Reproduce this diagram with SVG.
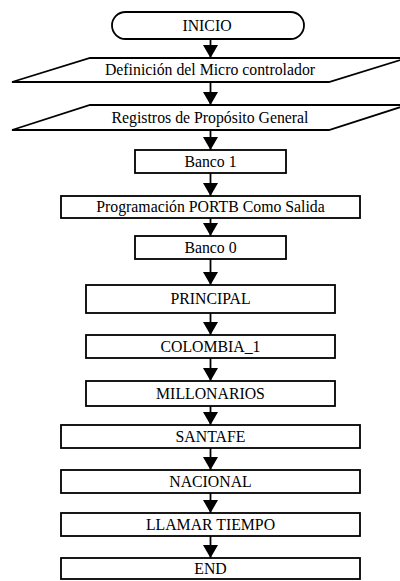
<svg xmlns="http://www.w3.org/2000/svg" width="400" height="581" viewBox="0 0 400 581">
  <style>
    .shape { fill: #ffffff; stroke: #000000; stroke-width: 1.8; }
    .label { font-family: 'Liberation Serif', 'Times New Roman', 'DejaVu Serif', serif; font-size: 15.8px; font-weight: normal; fill: #000000; text-anchor: middle; }
    .flow { stroke: #000000; stroke-width: 1.8; fill: none; marker-end: url(#head); }
  </style>
  <defs>
    <marker id="head" viewBox="0 0 13 15" refX="13" refY="7.5" markerWidth="13" markerHeight="15" markerUnits="userSpaceOnUse" orient="auto">
      <path d="M0,0 L13,7.5 L0,15 Z" fill="#000000"/>
    </marker>
  </defs>
  <rect width="400" height="581" fill="#ffffff"/>

  <g id="connectors">
    <line class="flow" x1="210.5" y1="39" x2="210.5" y2="58"/>
    <line class="flow" x1="210.5" y1="82" x2="210.5" y2="105"/>
    <line class="flow" x1="210.5" y1="130" x2="210.5" y2="150"/>
    <line class="flow" x1="210.5" y1="173" x2="210.5" y2="196"/>
    <line class="flow" x1="210.5" y1="218" x2="210.5" y2="236"/>
    <line class="flow" x1="210.5" y1="259" x2="210.5" y2="285"/>
    <line class="flow" x1="210.5" y1="313" x2="210.5" y2="335"/>
    <line class="flow" x1="210.5" y1="358" x2="210.5" y2="381"/>
    <line class="flow" x1="210.5" y1="406" x2="210.5" y2="425"/>
    <line class="flow" x1="210.5" y1="448" x2="210.5" y2="470"/>
    <line class="flow" x1="210.5" y1="493" x2="210.5" y2="513"/>
    <line class="flow" x1="210.5" y1="536" x2="210.5" y2="558"/>
  </g>

  <g id="inicio">
    <rect class="shape" x="112" y="12" width="192" height="27" rx="13.5" ry="13.5"/>
    <text class="label" x="207" y="31" font-family="Liberation Serif, serif">INICIO</text>
  </g>
  <g id="definicion">
    <polygon class="shape" points="90,58 407,58 329,82 12,82"/>
    <text class="label" x="210" y="75">Definición del Micro controlador</text>
  </g>
  <g id="registros">
    <polygon class="shape" points="90,105 407,105 329,130 12,130"/>
    <text class="label" x="210" y="122.5">Registros de Propósito General</text>
  </g>
  <g id="banco1">
    <rect class="shape" x="135" y="150" width="151" height="23"/>
    <text class="label" x="210.5" y="166.5">Banco 1</text>
  </g>
  <g id="portb">
    <rect class="shape" x="61" y="196" width="299" height="22"/>
    <text class="label" x="210.5" y="212">Programación PORTB Como Salida</text>
  </g>
  <g id="banco0">
    <rect class="shape" x="135" y="236" width="151" height="23"/>
    <text class="label" x="210.5" y="252.5">Banco 0</text>
  </g>
  <g id="principal">
    <rect class="shape" x="86" y="285" width="249" height="28"/>
    <text class="label" x="210.5" y="304">PRINCIPAL</text>
  </g>
  <g id="colombia">
    <rect class="shape" x="86" y="335" width="249" height="23"/>
    <text class="label" x="210.5" y="351.5">COLOMBIA_1</text>
  </g>
  <g id="millonarios">
    <rect class="shape" x="86" y="381" width="249" height="25"/>
    <text class="label" x="210.5" y="398.5">MILLONARIOS</text>
  </g>
  <g id="santafe">
    <rect class="shape" x="61" y="425" width="299" height="23"/>
    <text class="label" x="210.5" y="441.5">SANTAFE</text>
  </g>
  <g id="nacional">
    <rect class="shape" x="61" y="470" width="299" height="23"/>
    <text class="label" x="210.5" y="486.5">NACIONAL</text>
  </g>
  <g id="llamar">
    <rect class="shape" x="61" y="513" width="299" height="23"/>
    <text class="label" x="210.5" y="529.5">LLAMAR TIEMPO</text>
  </g>
  <g id="end">
    <rect class="shape" x="61" y="558" width="299" height="21"/>
    <text class="label" x="210.5" y="574">END</text>
  </g>
</svg>
